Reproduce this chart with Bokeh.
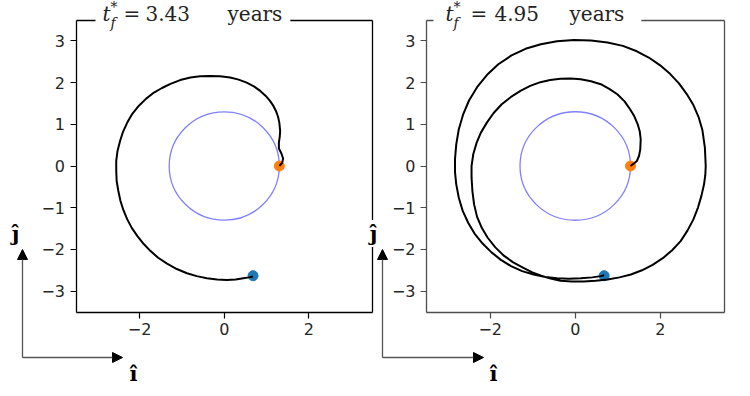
from bokeh.plotting import figure
from bokeh.models import Range1d, FixedTicker, LinearAxis, Label, Arrow, NormalHead
from bokeh.embed import file_html
from bokeh.resources import INLINE

# ---------------- data ----------------
panel_titles = ["3.43", "4.95"]
x_ticks = [-2, 0, 2]
x_tick_labels = ["\u22122", "0", "2"]
y_ticks = [-3, -2, -1, 0, 1, 2, 3]
y_tick_labels = ["\u22123", "\u22122", "\u22121", "0", "1", "2", "3"]
axis_limits = [-3.5, 3.5]
orbit_radius = 1.3
start_x = [1.30]
start_y = [0.0]
end_x = [0.68]
end_y = [-2.63]

left_x = [1.30, 1.37, 1.39, 1.35, 1.29, 1.29, 1.31, 1.32, 1.30, 1.27, 1.22, 1.16, 1.08,
          0.98, 0.85, 0.70, 0.53, 0.34, 0.14, -0.10, -0.33, -0.57, -0.80, -1.04, -1.27,
          -1.47, -1.66, -1.85, -2.02, -2.17, -2.29, -2.39, -2.46, -2.52, -2.55, -2.55,
          -2.54, -2.50, -2.45, -2.38, -2.29, -2.18, -2.05, -1.90, -1.74, -1.56, -1.35,
          -1.12, -0.88, -0.65, -0.41, -0.17, 0.06, 0.27, 0.45, 0.58, 0.68]
left_y = [0.00, 0.08, 0.18, 0.30, 0.42, 0.56, 0.70, 0.84, 1.04, 1.18, 1.32, 1.44, 1.56,
          1.68, 1.80, 1.91, 2.00, 2.07, 2.12, 2.15, 2.16, 2.15, 2.12, 2.06, 1.97,
          1.87, 1.76, 1.61, 1.44, 1.25, 1.04, 0.82, 0.60, 0.36, 0.12, -0.12,
          -0.36, -0.60, -0.84, -1.06, -1.28, -1.49, -1.68, -1.87, -2.04, -2.20, -2.34,
          -2.47, -2.57, -2.64, -2.69, -2.72, -2.73, -2.72, -2.69, -2.67, -2.65]

right_x = [1.30, 1.38, 1.45, 1.50, 1.53, 1.54, 1.52, 1.47, 1.39, 1.29, 1.16, 0.99, 0.80,
           0.60, 0.37, 0.13, -0.11, -0.35, -0.59, -0.82, -1.06, -1.29, -1.52, -1.73,
           -1.92, -2.08, -2.22, -2.32, -2.40, -2.44, -2.44, -2.42, -2.38, -2.31, -2.20,
           -2.06, -1.88, -1.68, -1.46, -1.22, -1.01, -0.80, -0.58, -0.35, -0.08, 0.20,
           0.48, 0.76, 1.04, 1.31, 1.57, 1.82, 2.06, 2.28, 2.48, 2.64, 2.78, 2.89, 2.97,
           3.03, 3.06, 3.07, 3.05, 2.99, 2.90, 2.78, 2.62, 2.44, 2.23, 1.99, 1.73, 1.45,
           1.12, 0.76, 0.37, -0.03, -0.43, -0.81, -1.17, -1.50, -1.81, -2.08, -2.31,
           -2.50, -2.64, -2.74, -2.80, -2.83, -2.83, -2.80, -2.74, -2.65, -2.52, -2.37,
           -2.18, -1.97, -1.75, -1.51, -1.25, -0.98, -0.70, -0.43, -0.15, 0.13, 0.40,
           0.60, 0.68]
right_y = [0.00, 0.06, 0.12, 0.24, 0.40, 0.64, 0.82, 1.00, 1.19, 1.36, 1.55, 1.72, 1.85,
           1.96, 2.03, 2.08, 2.10, 2.09, 2.06, 2.01, 1.92, 1.80, 1.65, 1.48,
           1.27, 1.04, 0.80, 0.56, 0.28, 0.00, -0.28, -0.60, -0.92, -1.22, -1.48,
           -1.72, -1.95, -2.15, -2.31, -2.44, -2.55, -2.63, -2.70, -2.75, -2.77, -2.77,
           -2.75, -2.72, -2.67, -2.60, -2.50, -2.37, -2.21, -2.02, -1.80, -1.55, -1.28,
           -0.99, -0.71, -0.44, -0.22, 0.00, 0.44, 0.87, 1.18, 1.46, 1.73, 1.98, 2.21,
           2.42, 2.60, 2.75, 2.88, 2.96, 3.01, 3.02, 2.99, 2.92, 2.81, 2.65, 2.44, 2.18,
           1.89, 1.57, 1.23, 0.88, 0.52, 0.16, -0.14, -0.44, -0.76, -1.07, -1.36, -1.62,
           -1.86, -2.07, -2.25, -2.40, -2.52, -2.60, -2.66, -2.69, -2.70, -2.69, -2.67,
           -2.64, -2.62]

# ---------------- layout (canvas pixels) ----------------
W, H = 750, 396
LEFT_BOX = (75.5, 372.0)
RIGHT_BOX = (426.0, 723.5)
BOX_TOP, BOX_BOTTOM = 19.5, 311.5
SPAN = axis_limits[1] - axis_limits[0]


def range_for(box, total):
    ppu = (box[1] - box[0]) / SPAN
    start = axis_limits[0] - box[0] / ppu
    return start, start + total / ppu, ppu


lx0, lx1, lppu = range_for(LEFT_BOX, W)
rx0, rx1, rppu = range_for(RIGHT_BOX, W)
yppu = (BOX_BOTTOM - BOX_TOP) / SPAN
ytop = axis_limits[1] + BOX_TOP / yppu
ybot = ytop - H / yppu


def cx(px):
    return lx0 + px / lppu


def cy(py):
    return ytop - py / yppu


SERIF = "DejaVu Serif"
SANS = "DejaVu Sans"
TXT = "#222222"

p = figure(width=W, height=H, output_backend="svg", toolbar_location=None,
           x_range=Range1d(lx0, lx1), y_range=Range1d(ybot, ytop),
           x_axis_type=None, y_axis_type=None,
           min_border_left=0, min_border_right=0, min_border_top=0, min_border_bottom=0)
p.extra_x_ranges = {"right": Range1d(rx0, rx1)}
p.outline_line_color = None
p.background_fill_color = "white"
p.border_fill_color = "white"
p.grid.visible = False


def add_frame(xrn, color):
    common = dict(axis_line_color=color, axis_line_width=1.3, bounds=tuple(axis_limits),
                  major_tick_line_color=color, major_tick_line_width=1.2,
                  major_tick_in=0, major_tick_out=6, minor_tick_line_color=None,
                  major_label_text_font=SANS, major_label_text_font_size="16px",
                  major_label_text_color="#262626", major_label_standoff=5)
    bx = LinearAxis(ticker=FixedTicker(ticks=x_ticks),
                    major_label_overrides=dict(zip(x_ticks, x_tick_labels)),
                    fixed_location=axis_limits[0], x_range_name=xrn, **common)
    p.add_layout(bx, "below")
    ly = LinearAxis(ticker=FixedTicker(ticks=y_ticks),
                    major_label_overrides=dict(zip(y_ticks, y_tick_labels)),
                    fixed_location=axis_limits[0], x_range_name=xrn, **common)
    p.add_layout(ly, "left")
    plain = dict(axis_line_color=color, axis_line_width=1.3, bounds=tuple(axis_limits),
                 ticker=FixedTicker(ticks=[]), major_tick_out=0, major_tick_in=0,
                 minor_tick_out=0, minor_tick_in=0, major_label_standoff=0,
                 major_label_text_font_size="0px", fixed_location=axis_limits[1], x_range_name=xrn)
    p.add_layout(LinearAxis(**plain), "above")
    p.add_layout(LinearAxis(**plain), "right")


def add_data(xrn, xs, ys):
    p.ellipse(x=[0], y=[0], width=[2 * orbit_radius], height=[2 * orbit_radius],
              fill_color=None, line_color="#8080ff", line_width=1.3, x_range_name=xrn)
    p.scatter(x=start_x, y=start_y, size=10, color="#ff7f0e", x_range_name=xrn)
    p.scatter(x=end_x, y=end_y, size=10, color="#1f77b4", x_range_name=xrn)
    p.line(x=xs, y=ys, line_color="black", line_width=2, x_range_name=xrn)


MID = 13  # vertical middle of the title text (canvas px)


def add_title(val, tx):
    # "years" label carries the white box that interrupts the top frame line
    p.add_layout(Label(x=cx(tx["bg0"]), y=cy(MID), text="years", text_font=SERIF,
                       text_font_size="20px", text_align="left", text_baseline="middle",
                       text_color=TXT, background_fill_color="white",
                       padding=dict(left=int(tx["years"] - tx["bg0"]),
                                    right=int(tx["bg1"] - tx["years"] - 55), top=6, bottom=6)))
    p.add_layout(Label(x=cx(tx["t"]), y=cy(MID), text="t", text_font=SERIF, text_font_style="italic",
                       text_font_size="20px", text_baseline="middle", text_color=TXT))
    p.add_layout(Label(x=cx(tx["t"] + 8), y=cy(MID - 7), text="*", text_font=SERIF,
                       text_font_size="14px", text_baseline="middle", text_color=TXT))
    p.add_layout(Label(x=cx(tx["t"] + 8), y=cy(MID + 9), text="f", text_font=SERIF,
                       text_font_style="italic", text_font_size="14px", text_baseline="middle",
                       text_color=TXT))
    p.add_layout(Label(x=cx(tx["eq"]), y=cy(MID), text="=", text_font=SERIF,
                       text_font_size="20px", text_baseline="middle", text_color=TXT))
    p.add_layout(Label(x=cx(tx["num"]), y=cy(MID), text=val, text_font=SERIF,
                       text_font_size="20px", text_baseline="middle", text_color=TXT))


def add_unit_vectors(corner, vtip, htip, i_pos):
    head = dict(size=10, fill_color="black", line_color="black")
    p.add_layout(Arrow(end=NormalHead(**head), x_start=cx(corner[0]), y_start=cy(corner[1]),
                       x_end=cx(vtip[0]), y_end=cy(vtip[1]), line_color="#555555", line_width=1.3))
    p.add_layout(Arrow(end=NormalHead(**head), x_start=cx(corner[0]), y_start=cy(corner[1]),
                       x_end=cx(htip[0]), y_end=cy(htip[1]), line_color="#555555", line_width=1.3))
    p.add_layout(Label(x=cx(i_pos[0]), y=cy(i_pos[1]), text="\u00ee", text_font=SERIF,
                       text_font_style="bold", text_font_size="21px", text_align="center",
                       text_baseline="middle", text_color="black"))


def add_j(pos):
    p.add_layout(Label(x=cx(pos[0]), y=cy(pos[1]), text="\u0135", text_font=SERIF,
                       text_font_style="bold", text_font_size="21px", text_align="center",
                       text_baseline="middle", text_color="black", background_fill_color="white",
                       padding=1))


add_frame("default", "black")
add_frame("right", "#4d4d4d")
add_data("default", left_x, left_y)
add_data("right", right_x, right_y)
add_title(panel_titles[0], dict(t=102, eq=123, num=145, years=227, bg0=95, bg1=290))
add_title(panel_titles[1], dict(t=445, eq=470, num=494, years=569, bg0=433, bg1=641))
add_unit_vectors((22, 357), (22, 249), (122, 357), (133, 373))
add_unit_vectors((382, 357), (382, 249), (483, 357), (493, 373))
add_j((15, 233))
add_j((373, 233))

open("out.html", "w").write(file_html(p, INLINE))
